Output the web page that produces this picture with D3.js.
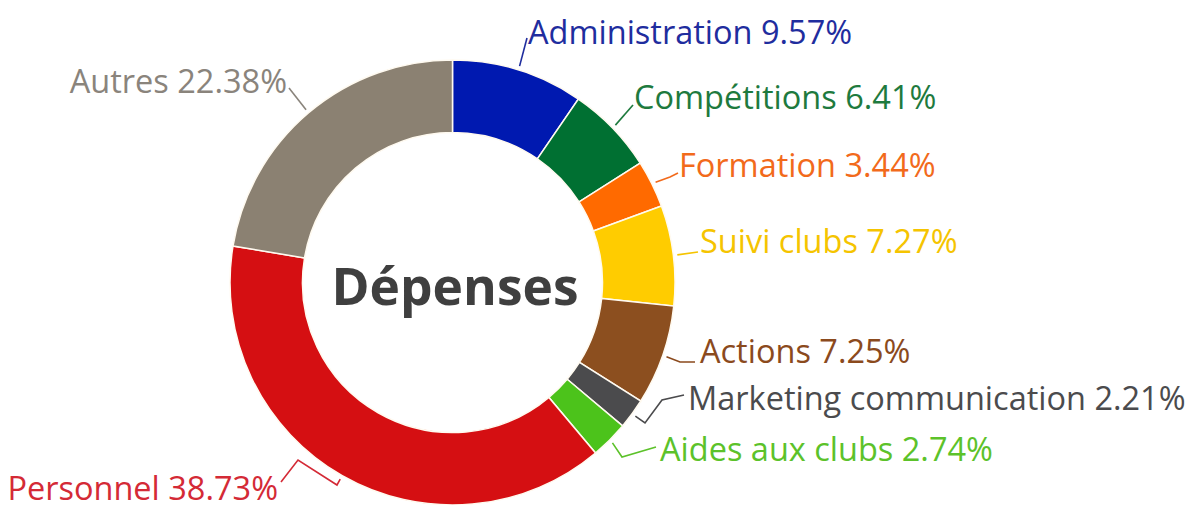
<!DOCTYPE html>
<html><head><meta charset="utf-8">
<script src="https://cdn.jsdelivr.net/npm/d3@7"></script>
<style>html,body{margin:0;padding:0;background:#fff;}svg{display:block;}</style>
</head><body>
<svg id="chart" width="1192" height="505"></svg>
<script>
// ---- data ----
const categories = ["Administration","Compétitions","Formation","Suivi clubs","Actions","Marketing communication","Aides aux clubs","Personnel","Autres"];
const values = [9.57, 6.41, 3.44, 7.27, 7.25, 2.21, 2.74, 38.73, 22.38];
const sliceColors = ["#0019b0","#007032","#ff6a00","#ffcc00","#8c4f1f","#4b4b4d","#4cc31b","#d50f12","#8b8172"];
const labelColors = ["#1f2d9e","#1e7a3e","#f26a1b","#f5c400","#8b4a1d","#4b4b4d","#5cc22a","#d42a36","#8a847c"];
const centerTitle = "Dépenses";

// ---- layout (annotation placement) ----
const cx = 452.5, cy = 282.5, R = 222.5, r = 150;
const labelLayout = [
  {x:528, y:44,  anchor:"start", path:[[527,38]]},
  {x:634, y:109, anchor:"start", path:[[633,105]]},
  {x:679, y:177, anchor:"start", path:[[670,177],[678,173]]},
  {x:700, y:253, anchor:"start", path:[[698,252]]},
  {x:700, y:363, anchor:"start", path:[[680,362],[695,362]]},
  {x:688, y:410, anchor:"start", path:[[645,423],[662,400],[684,395]]},
  {x:660, y:461, anchor:"start", path:[[622,457],[656,447]]},
  {x:278, y:500, anchor:"end",   path:[[337,485],[298,460],[281,482]]},
  {x:287, y:93,  anchor:"end",   path:[[289,88]]}
];

const svg = d3.select("#chart");
const g = svg.append("g").attr("transform", `translate(${cx},${cy})`);

const pie = d3.pie().sort(null).value(d => d)(values);
const arc = d3.arc().innerRadius(r).outerRadius(R);
const edgeArc = d3.arc().innerRadius(R + 4).outerRadius(R + 4);

g.selectAll("path.slice").data(pie).join("path")
  .attr("class","slice")
  .attr("d", arc)
  .attr("fill", (d,i) => sliceColors[i])
  .attr("stroke", "#fffaf0")
  .attr("stroke-width", 1.5);

// leader lines
const line = d3.line();
svg.selectAll("path.leader").data(pie).join("path")
  .attr("class","leader")
  .attr("d", (d,i) => {
    const c = edgeArc.centroid(d);
    const p0 = [c[0] + cx, c[1] + cy];
    return line([p0, ...labelLayout[i].path]);
  })
  .attr("fill","none")
  .attr("stroke",(d,i) => labelColors[i])
  .attr("stroke-width",1.6);

// labels
svg.selectAll("text.lbl").data(pie).join("text")
  .attr("class","lbl")
  .attr("x",(d,i) => labelLayout[i].x)
  .attr("y",(d,i) => labelLayout[i].y)
  .attr("text-anchor",(d,i) => labelLayout[i].anchor)
  .attr("fill",(d,i) => labelColors[i])
  .style("font-family","'Open Sans', sans-serif")
  .style("font-size","32.5px")
  .text((d,i) => `${categories[i]} ${values[i].toFixed(2)}%`);

// center title
svg.append("text")
  .attr("x", 455).attr("y", 305)
  .attr("text-anchor","middle")
  .attr("fill","#3f3f3f")
  .style("font-family","'Open Sans', sans-serif")
  .style("font-weight","700")
  .style("font-size","51.5px")
  .text(centerTitle);
</script>
</body></html>
